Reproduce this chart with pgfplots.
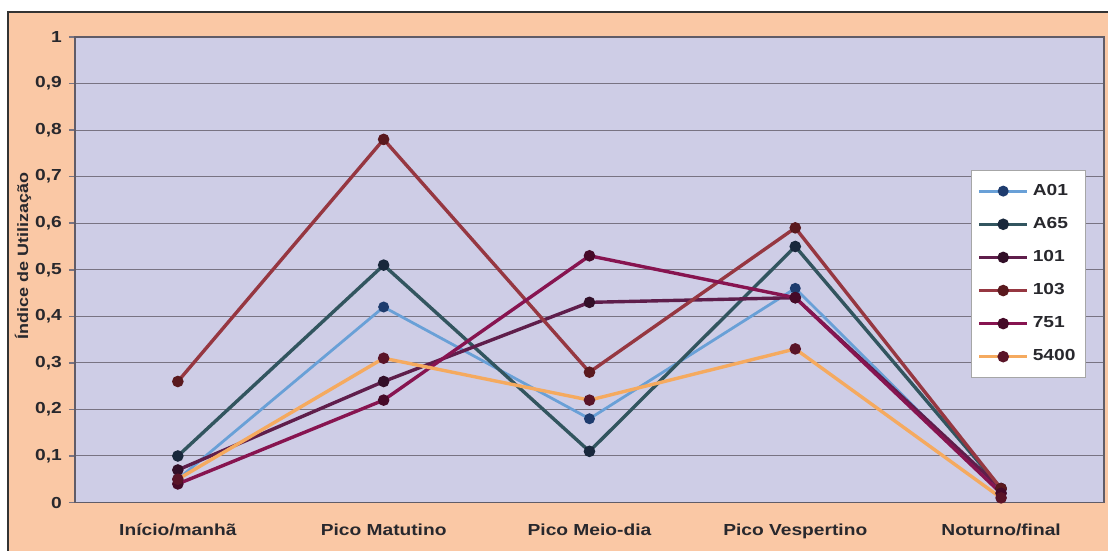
\documentclass[border=0pt]{standalone}
\usepackage{fontspec}
\setmainfont{Liberation Sans}[FakeStretch=1.2]
\usepackage{pgfplots}
\pgfplotsset{compat=1.18}
\definecolor{peach}{RGB}{250,200,165}
\definecolor{lav}{RGB}{206,205,230}
\definecolor{gridc}{RGB}{120,115,130}
\definecolor{txt}{RGB}{40,40,45}
\definecolor{cA01}{RGB}{105,160,215}
\definecolor{mA01}{RGB}{30,60,110}
\definecolor{cA65}{RGB}{50,85,95}
\definecolor{mA65}{RGB}{25,40,60}
\definecolor{c101}{RGB}{95,30,75}
\definecolor{m101}{RGB}{50,15,40}
\definecolor{c103}{RGB}{150,55,65}
\definecolor{m103}{RGB}{90,25,30}
\definecolor{c751}{RGB}{135,20,80}
\definecolor{m751}{RGB}{70,10,40}
\definecolor{c5400}{RGB}{245,170,95}
\definecolor{m5400}{RGB}{90,20,40}

\begin{document}
\begin{tikzpicture}
% page frame and background
\path (-37.5pt,-24pt) rectangle (517pt,251.5pt);
\fill[peach] (-33.5pt,-24pt) rectangle (517pt,245.5pt);
\draw[black!80,line width=1pt] (-33.5pt,-24pt) -- (-33.5pt,245.5pt) -- (517pt,245.5pt);
\begin{axis}[
    at={(0,0)}, anchor=south west,
    scale only axis, width=515pt, height=233pt,
    axis background/.style={fill=lav},
    xmin=-0.5, xmax=4.5, ymin=0, ymax=1,
    xtick={0,1,2,3,4},
    xticklabels={Início/manhã, Pico Matutino, Pico Meio-dia, Pico Vespertino, Noturno/final},
    ytick={0,0.1,0.2,0.3,0.4,0.5,0.6,0.7,0.8,0.9,1},
    yticklabels={0,{0,1},{0,2},{0,3},{0,4},{0,5},{0,6},{0,7},{0,8},{0,9},1},
    xtick style={draw=none},
    ytick pos=left, tick align=outside, major tick length=3pt,
    ytick style={gridc, line width=0.8pt},
    ymajorgrids, grid style={gridc, line width=0.5pt},
    axis line style={gridc!80!black, line width=0.9pt},
    tick label style={font=\bfseries\fontsize{8}{9}\selectfont, text=txt},
    xticklabel style={yshift=-4pt},
    ylabel={Índice de Utilização},
    ylabel style={at={(axis description cs:-0.0505,0.53)}, anchor=center,
                  font=\bfseries\fontsize{7.5}{9}\selectfont, text=txt},
    legend style={at={(0.871,0.715)}, anchor=north west, fill=white, draw=gray!70,
                  font=\bfseries\fontsize{8}{9}\selectfont, text=txt,
                  row sep=5.5pt, inner xsep=3pt, inner ysep=5pt},
    legend cell align=left,
    legend image code/.code={\draw[mark repeat=2,mark phase=2]
        plot coordinates {(0cm,0cm) (0.42cm,0cm) (0.84cm,0cm)};},
    every axis plot/.append style={line width=1.7pt, mark=*, mark size=2pt},
]
  \addplot[cA01, line width=1.4pt, mark options={fill=mA01, draw=mA01}] coordinates {
    (0,0.05) (1,0.42) (2,0.18) (3,0.46) (4,0.02)};
  \addplot[cA65, mark options={fill=mA65, draw=mA65}] coordinates {
    (0,0.10) (1,0.51) (2,0.11) (3,0.55) (4,0.03)};
  \addplot[c101, mark options={fill=m101, draw=m101}] coordinates {
    (0,0.07) (1,0.26) (2,0.43) (3,0.44) (4,0.03)};
  \addplot[c103, mark options={fill=m103, draw=m103}] coordinates {
    (0,0.26) (1,0.78) (2,0.28) (3,0.59) (4,0.03)};
  \addplot[c751, mark options={fill=m751, draw=m751}] coordinates {
    (0,0.04) (1,0.22) (2,0.53) (3,0.44) (4,0.02)};
  \addplot[c5400, mark options={fill=m5400, draw=m5400}] coordinates {
    (0,0.05) (1,0.31) (2,0.22) (3,0.33) (4,0.01)};
  \legend{A01, A65, 101, 103, 751, 5400}
\end{axis}
\end{tikzpicture}
\end{document}
